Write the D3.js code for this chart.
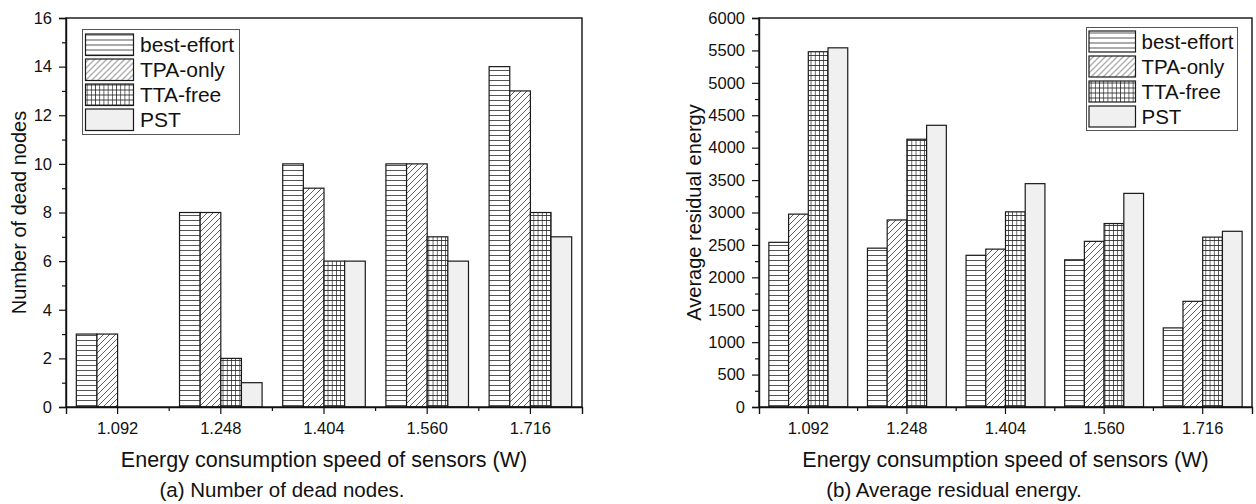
<!DOCTYPE html>
<html>
<head>
<meta charset="utf-8">
<script src="https://cdn.jsdelivr.net/npm/d3@7"></script>
<style>
  html, body { margin: 0; padding: 0; background: #fff; }
  svg { display: block; }
  text { font-family: "Liberation Sans", Arial, sans-serif; fill: #111; }
</style>
</head>
<body>
<svg id="chart" width="1256" height="504"></svg>
<script>
// ---------------- DATA ----------------
const categories = ["1.092", "1.248", "1.404", "1.560", "1.716"];
const seriesNames = ["best-effort", "TPA-only", "TTA-free", "PST"];

// (a) Number of dead nodes
const deadBestEffort = [3, 8, 10, 10, 14];
const deadTPAonly    = [3, 8, 9, 10, 13];
const deadTTAfree    = [0, 2, 6, 7, 8];
const deadPST        = [0, 1, 6, 6, 7];

// (b) Average residual energy
const energyBestEffort = [2540, 2450, 2340, 2270, 1220];
const energyTPAonly    = [2975, 2885, 2435, 2555, 1630];
const energyTTAfree    = [5480, 4130, 3010, 2830, 2620];
const energyPST        = [5540, 4345, 3445, 3295, 2710];

const deadMajorTicks = [0, 2, 4, 6, 8, 10, 12, 14, 16];
const deadMinorTicks = [1, 3, 5, 7, 9, 11, 13, 15];
const energyMajorTicks = [0, 500, 1000, 1500, 2000, 2500, 3000, 3500, 4000, 4500, 5000, 5500, 6000];
const energyMinorTicks = [250, 750, 1250, 1750, 2250, 2750, 3250, 3750, 4250, 4750, 5250, 5750];

const xTitle = "Energy consumption speed of sensors (W)";
const captionA = "(a) Number of dead nodes.";
const captionB = "(b) Average residual energy.";
const yTitleA = "Number of dead nodes";
const yTitleB = "Average residual energy";

// ---------------- DRAW ----------------
const svg = d3.select("#chart");
const defs = svg.append("defs");
const lineCol = "#2a2a2a";

// patterns
function pat(id, w, h, draw) {
  const p = defs.append("pattern").attr("id", id)
    .attr("patternUnits", "userSpaceOnUse").attr("width", w).attr("height", h);
  p.append("rect").attr("width", w).attr("height", h).attr("fill", "#fff");
  draw(p);
}
pat("p-horiz", 10, 5, p => {
  p.append("line").attr("x1", 0).attr("x2", 10).attr("y1", 0.5).attr("y2", 0.5)
    .attr("stroke", lineCol).attr("stroke-width", 0.8);
});
pat("p-diag", 6, 6, p => {
  p.append("path").attr("d", "M0,6 L6,0 M-1,1 L1,-1 M5,7 L7,5")
    .attr("stroke", lineCol).attr("stroke-width", 0.75).attr("fill", "none");
});
pat("p-grid", 4.2, 5, p => {
  p.append("path").attr("d", "M0.4,0 L0.4,5 M0,0.5 L4.2,0.5")
    .attr("stroke", lineCol).attr("stroke-width", 0.8).attr("fill", "none");
});
const fills = ["url(#p-horiz)", "url(#p-diag)", "url(#p-grid)", "#f0f0f0"];

function drawPanel(cfg) {
  const g = svg.append("g");
  const x = d3.scaleBand().domain(categories).range([cfg.x0, cfg.x1]).padding(0);
  const bw = x.bandwidth();
  const xs = d3.scaleBand().domain(seriesNames).range([bw * 0.1, bw * 0.9]).padding(0);
  const y = d3.scaleLinear().domain(cfg.domain).range([cfg.yb, cfg.yt]);

  // bars
  cfg.series.forEach((vals, si) => {
    g.append("g").selectAll("rect").data(vals).join("rect")
      .attr("x", (d, i) => x(categories[i]) + xs(seriesNames[si]))
      .attr("y", d => y(d))
      .attr("width", xs.bandwidth())
      .attr("height", d => y(0) - y(d))
      .attr("fill", fills[si])
      .attr("stroke", "#1a1a1a")
      .attr("stroke-width", 1.2);
  });

  // frame
  g.append("rect").attr("x", cfg.x0).attr("y", cfg.yt)
    .attr("width", cfg.x1 - cfg.x0).attr("height", cfg.yb - cfg.yt)
    .attr("fill", "none").attr("stroke", "#111").attr("stroke-width", 1.4);

  // y axis
  const ya = g.append("g").attr("transform", `translate(${cfg.x0},0)`)
    .call(d3.axisLeft(y).tickValues(cfg.major).tickSize(7).tickPadding(7).tickFormat(d3.format("d")));
  ya.select(".domain").attr("stroke", "#111").attr("stroke-width", 1.4);
  ya.selectAll(".tick line").attr("stroke", "#111").attr("stroke-width", 1.2);
  ya.selectAll(".tick text").style("font-size", "16.5px").attr("fill", "#111");
  const ym = g.append("g").attr("transform", `translate(${cfg.x0},0)`)
    .call(d3.axisLeft(y).tickValues(cfg.minor).tickSize(4).tickFormat(""));
  ym.select(".domain").remove();
  ym.selectAll(".tick line").attr("stroke", "#111").attr("stroke-width", 1.2);

  // x axis
  const xa = g.append("g").attr("transform", `translate(0,${cfg.yb})`)
    .call(d3.axisBottom(x).tickSize(7).tickPadding(8));
  xa.select(".domain").attr("stroke", "#111").attr("stroke-width", 1.4);
  xa.selectAll(".tick line").attr("stroke", "#111").attr("stroke-width", 1.2);
  xa.selectAll(".tick text").style("font-size", "16.5px").attr("fill", "#111");
  // minor ticks at category boundaries
  g.append("g").selectAll("line").data(categories.slice(1)).join("line")
    .attr("x1", d => x(d)).attr("x2", d => x(d))
    .attr("y1", cfg.yb).attr("y2", cfg.yb + 4)
    .attr("stroke", "#111").attr("stroke-width", 1.2);

  // titles
  g.append("text").attr("x", (cfg.x0 + cfg.x1) / 2).attr("y", 459).attr("dy", "0.35em")
    .attr("text-anchor", "middle").style("font-size", "21.5px").text(xTitle);
  g.append("text").attr("x", cfg.capX).attr("y", 490).attr("dy", "0.35em")
    .attr("text-anchor", "middle").style("font-size", "20.5px").text(cfg.caption);
  g.append("text")
    .attr("transform", `translate(${cfg.yTitleX},${(cfg.yt + cfg.yb) / 2}) rotate(-90)`)
    .attr("dy", "0.35em").attr("text-anchor", "middle").style("font-size", "20px").text(cfg.yTitle);

  // legend
  const L = cfg.legend;
  const lg = g.append("g").attr("transform", `translate(${L.x},${L.y})`);
  lg.append("rect").attr("width", L.w).attr("height", L.h)
    .attr("fill", "#fff").attr("stroke", "#555").attr("stroke-width", 1);
  seriesNames.forEach((s, i) => {
    lg.append("rect").attr("x", L.sx).attr("y", L.sy + i * L.pitch)
      .attr("width", L.sw).attr("height", L.sh)
      .attr("fill", fills[i]).attr("stroke", "#1a1a1a").attr("stroke-width", 1.2);
    lg.append("text").attr("x", L.tx).attr("y", L.sy + i * L.pitch + L.sh / 2)
      .attr("dy", "0.36em").style("font-size", L.fs + "px").text(s);
  });
}

drawPanel({
  x0: 66, x1: 582, yt: 18, yb: 407,
  domain: [0, 16], major: deadMajorTicks, minor: deadMinorTicks,
  series: [deadBestEffort, deadTPAonly, deadTTAfree, deadPST],
  caption: captionA, capX: 282, yTitle: yTitleA, yTitleX: 19,
  legend: { x: 82.5, y: 29.5, w: 157, h: 105, sx: 3, sy: 4.5, sw: 48, sh: 21.5, pitch: 25, tx: 57.5, fs: 21 }
});

drawPanel({
  x0: 759, x1: 1252, yt: 18, yb: 407,
  domain: [0, 6000], major: energyMajorTicks, minor: energyMinorTicks,
  series: [energyBestEffort, energyTPAonly, energyTTAfree, energyPST],
  caption: captionB, capX: 954, yTitle: yTitleB, yTitleX: 694,
  legend: { x: 1086.5, y: 27.5, w: 151, h: 103, sx: 2.5, sy: 3.5, sw: 46.5, sh: 21, pitch: 25, tx: 55, fs: 20.5 }
});
</script>
</body>
</html>
